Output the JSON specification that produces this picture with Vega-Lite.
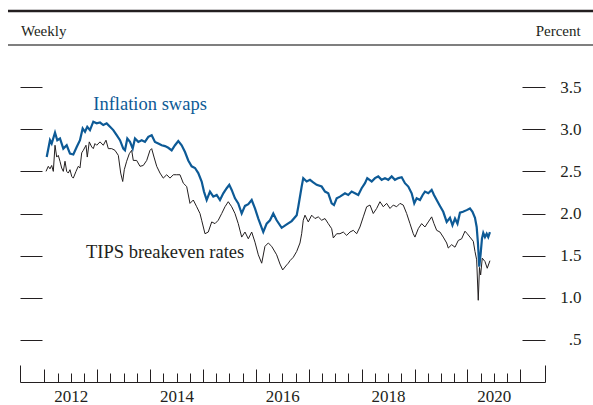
{
  "$schema": "https://vega.github.io/schema/vega-lite/v6.json",
  "autosize": "none",
  "width": 525,
  "height": 337,
  "padding": {"left": 20, "top": 45, "right": 48, "bottom": 23},
  "background": "white",
  "config": {"view": {"stroke": null}, "font": "Liberation Serif"},
  "datasets": {
    "swaps": [
      {"t":2012.045,"v":2.67},{"t":2012.107,"v":2.87},{"t":2012.139,"v":2.83},{"t":2012.202,"v":2.96},{"t":2012.245,"v":2.87},{"t":2012.296,"v":2.89},{"t":2012.359,"v":2.77},{"t":2012.423,"v":2.81},{"t":2012.485,"v":2.71},{"t":2012.548,"v":2.70},{"t":2012.612,"v":2.79},{"t":2012.674,"v":2.87},{"t":2012.725,"v":3.01},{"t":2012.769,"v":2.97},{"t":2012.812,"v":3.03},{"t":2012.863,"v":2.99},{"t":2012.926,"v":3.09},{"t":2012.990,"v":3.07},{"t":2013.053,"v":3.08},{"t":2013.115,"v":3.05},{"t":2013.179,"v":3.07},{"t":2013.242,"v":3.03},{"t":2013.304,"v":2.99},{"t":2013.368,"v":2.93},{"t":2013.431,"v":2.87},{"t":2013.493,"v":2.77},{"t":2013.525,"v":2.75},{"t":2013.569,"v":2.89},{"t":2013.620,"v":2.85},{"t":2013.671,"v":2.77},{"t":2013.714,"v":2.89},{"t":2013.777,"v":2.85},{"t":2013.841,"v":2.87},{"t":2013.903,"v":2.85},{"t":2013.966,"v":2.91},{"t":2014.030,"v":2.93},{"t":2014.092,"v":2.85},{"t":2014.155,"v":2.83},{"t":2014.219,"v":2.81},{"t":2014.282,"v":2.80},{"t":2014.344,"v":2.78},{"t":2014.408,"v":2.75},{"t":2014.471,"v":2.81},{"t":2014.533,"v":2.86},{"t":2014.597,"v":2.81},{"t":2014.660,"v":2.73},{"t":2014.722,"v":2.63},{"t":2014.786,"v":2.56},{"t":2014.849,"v":2.54},{"t":2014.911,"v":2.48},{"t":2014.975,"v":2.38},{"t":2015.019,"v":2.26},{"t":2015.070,"v":2.16},{"t":2015.132,"v":2.26},{"t":2015.195,"v":2.20},{"t":2015.259,"v":2.22},{"t":2015.321,"v":2.16},{"t":2015.384,"v":2.24},{"t":2015.448,"v":2.30},{"t":2015.497,"v":2.34},{"t":2015.543,"v":2.28},{"t":2015.605,"v":2.18},{"t":2015.667,"v":2.12},{"t":2015.732,"v":2.00},{"t":2015.794,"v":2.09},{"t":2015.857,"v":2.11},{"t":2015.921,"v":2.16},{"t":2015.983,"v":2.06},{"t":2016.046,"v":1.94},{"t":2016.140,"v":1.78},{"t":2016.204,"v":1.88},{"t":2016.267,"v":1.92},{"t":2016.329,"v":2.00},{"t":2016.393,"v":1.92},{"t":2016.488,"v":1.83},{"t":2016.583,"v":1.87},{"t":2016.677,"v":1.91},{"t":2016.772,"v":1.98},{"t":2016.802,"v":2.08},{"t":2016.866,"v":2.32},{"t":2016.896,"v":2.42},{"t":2016.961,"v":2.38},{"t":2017.023,"v":2.40},{"t":2017.085,"v":2.37},{"t":2017.150,"v":2.34},{"t":2017.244,"v":2.32},{"t":2017.307,"v":2.26},{"t":2017.369,"v":2.24},{"t":2017.433,"v":2.12},{"t":2017.477,"v":2.10},{"t":2017.528,"v":2.18},{"t":2017.590,"v":2.20},{"t":2017.685,"v":2.24},{"t":2017.747,"v":2.22},{"t":2017.811,"v":2.26},{"t":2017.874,"v":2.24},{"t":2017.936,"v":2.22},{"t":2018.000,"v":2.30},{"t":2018.063,"v":2.36},{"t":2018.106,"v":2.42},{"t":2018.190,"v":2.38},{"t":2018.252,"v":2.42},{"t":2018.314,"v":2.44},{"t":2018.379,"v":2.40},{"t":2018.441,"v":2.42},{"t":2018.503,"v":2.40},{"t":2018.568,"v":2.44},{"t":2018.630,"v":2.40},{"t":2018.693,"v":2.42},{"t":2018.757,"v":2.43},{"t":2018.819,"v":2.36},{"t":2018.882,"v":2.32},{"t":2018.946,"v":2.24},{"t":2018.995,"v":2.12},{"t":2019.040,"v":2.18},{"t":2019.103,"v":2.16},{"t":2019.154,"v":2.22},{"t":2019.197,"v":2.26},{"t":2019.260,"v":2.24},{"t":2019.324,"v":2.28},{"t":2019.368,"v":2.22},{"t":2019.419,"v":2.16},{"t":2019.481,"v":2.09},{"t":2019.543,"v":2.02},{"t":2019.608,"v":1.90},{"t":2019.670,"v":1.95},{"t":2019.717,"v":1.86},{"t":2019.765,"v":1.94},{"t":2019.812,"v":1.88},{"t":2019.859,"v":2.01},{"t":2019.916,"v":2.02},{"t":2019.986,"v":2.04},{"t":2020.048,"v":2.06},{"t":2020.096,"v":2.02},{"t":2020.143,"v":1.95},{"t":2020.175,"v":1.84},{"t":2020.199,"v":1.65},{"t":2020.224,"v":1.37},{"t":2020.250,"v":1.52},{"t":2020.275,"v":1.70},{"t":2020.300,"v":1.77},{"t":2020.332,"v":1.72},{"t":2020.364,"v":1.76},{"t":2020.394,"v":1.72},{"t":2020.426,"v":1.78}
    ],
    "tips": [
      {"t":2012.032,"v":2.50},{"t":2012.075,"v":2.56},{"t":2012.107,"v":2.53},{"t":2012.139,"v":2.57},{"t":2012.170,"v":2.50},{"t":2012.202,"v":2.81},{"t":2012.234,"v":2.67},{"t":2012.264,"v":2.69},{"t":2012.296,"v":2.62},{"t":2012.328,"v":2.54},{"t":2012.359,"v":2.50},{"t":2012.391,"v":2.62},{"t":2012.423,"v":2.50},{"t":2012.453,"v":2.48},{"t":2012.485,"v":2.52},{"t":2012.518,"v":2.44},{"t":2012.548,"v":2.42},{"t":2012.599,"v":2.50},{"t":2012.642,"v":2.56},{"t":2012.674,"v":2.54},{"t":2012.707,"v":2.72},{"t":2012.737,"v":2.75},{"t":2012.788,"v":2.81},{"t":2012.812,"v":2.67},{"t":2012.850,"v":2.85},{"t":2012.896,"v":2.79},{"t":2012.926,"v":2.77},{"t":2012.958,"v":2.83},{"t":2012.990,"v":2.81},{"t":2013.053,"v":2.85},{"t":2013.115,"v":2.81},{"t":2013.166,"v":2.87},{"t":2013.210,"v":2.77},{"t":2013.274,"v":2.77},{"t":2013.336,"v":2.75},{"t":2013.399,"v":2.69},{"t":2013.444,"v":2.48},{"t":2013.482,"v":2.38},{"t":2013.512,"v":2.52},{"t":2013.557,"v":2.62},{"t":2013.607,"v":2.71},{"t":2013.652,"v":2.75},{"t":2013.682,"v":2.63},{"t":2013.746,"v":2.63},{"t":2013.809,"v":2.56},{"t":2013.871,"v":2.57},{"t":2013.936,"v":2.63},{"t":2013.998,"v":2.75},{"t":2014.030,"v":2.77},{"t":2014.074,"v":2.67},{"t":2014.125,"v":2.56},{"t":2014.187,"v":2.48},{"t":2014.249,"v":2.42},{"t":2014.314,"v":2.46},{"t":2014.376,"v":2.42},{"t":2014.439,"v":2.46},{"t":2014.503,"v":2.46},{"t":2014.565,"v":2.46},{"t":2014.628,"v":2.36},{"t":2014.692,"v":2.32},{"t":2014.754,"v":2.12},{"t":2014.817,"v":2.16},{"t":2014.881,"v":2.08},{"t":2014.943,"v":2.00},{"t":2014.975,"v":1.92},{"t":2015.038,"v":1.76},{"t":2015.100,"v":1.78},{"t":2015.165,"v":1.90},{"t":2015.227,"v":1.88},{"t":2015.289,"v":1.92},{"t":2015.354,"v":2.00},{"t":2015.416,"v":2.08},{"t":2015.478,"v":2.14},{"t":2015.543,"v":2.08},{"t":2015.605,"v":2.00},{"t":2015.667,"v":1.88},{"t":2015.732,"v":1.72},{"t":2015.794,"v":1.78},{"t":2015.857,"v":1.70},{"t":2015.921,"v":1.78},{"t":2015.983,"v":1.66},{"t":2016.046,"v":1.51},{"t":2016.110,"v":1.41},{"t":2016.172,"v":1.61},{"t":2016.235,"v":1.65},{"t":2016.299,"v":1.61},{"t":2016.393,"v":1.51},{"t":2016.456,"v":1.40},{"t":2016.507,"v":1.33},{"t":2016.583,"v":1.39},{"t":2016.613,"v":1.41},{"t":2016.645,"v":1.44},{"t":2016.707,"v":1.48},{"t":2016.772,"v":1.55},{"t":2016.834,"v":1.65},{"t":2016.866,"v":1.76},{"t":2016.896,"v":1.92},{"t":2016.929,"v":1.98},{"t":2016.991,"v":1.90},{"t":2017.055,"v":1.98},{"t":2017.118,"v":1.94},{"t":2017.180,"v":1.96},{"t":2017.244,"v":1.92},{"t":2017.307,"v":1.94},{"t":2017.369,"v":1.88},{"t":2017.433,"v":1.82},{"t":2017.464,"v":1.71},{"t":2017.528,"v":1.76},{"t":2017.590,"v":1.76},{"t":2017.653,"v":1.78},{"t":2017.717,"v":1.74},{"t":2017.779,"v":1.78},{"t":2017.842,"v":1.80},{"t":2017.906,"v":1.76},{"t":2017.968,"v":1.84},{"t":2018.031,"v":1.96},{"t":2018.095,"v":2.08},{"t":2018.158,"v":2.10},{"t":2018.220,"v":2.00},{"t":2018.284,"v":2.06},{"t":2018.347,"v":2.14},{"t":2018.409,"v":2.08},{"t":2018.473,"v":2.12},{"t":2018.536,"v":2.06},{"t":2018.598,"v":2.10},{"t":2018.662,"v":2.08},{"t":2018.725,"v":2.12},{"t":2018.787,"v":2.10},{"t":2018.851,"v":2.00},{"t":2018.914,"v":1.88},{"t":2018.976,"v":1.76},{"t":2019.008,"v":1.72},{"t":2019.071,"v":1.82},{"t":2019.135,"v":1.88},{"t":2019.197,"v":1.84},{"t":2019.260,"v":1.90},{"t":2019.324,"v":1.96},{"t":2019.368,"v":1.88},{"t":2019.419,"v":1.80},{"t":2019.481,"v":1.78},{"t":2019.543,"v":1.72},{"t":2019.608,"v":1.65},{"t":2019.638,"v":1.59},{"t":2019.702,"v":1.63},{"t":2019.765,"v":1.60},{"t":2019.827,"v":1.68},{"t":2019.891,"v":1.70},{"t":2019.954,"v":1.79},{"t":2019.997,"v":1.76},{"t":2020.048,"v":1.72},{"t":2020.111,"v":1.67},{"t":2020.143,"v":1.55},{"t":2020.175,"v":1.45},{"t":2020.205,"v":0.97},{"t":2020.228,"v":1.36},{"t":2020.250,"v":1.27},{"t":2020.281,"v":1.47},{"t":2020.332,"v":1.43},{"t":2020.375,"v":1.35},{"t":2020.426,"v":1.44}
    ]
  },
  "layer": [
    {
      "data": {"name": "tips"},
      "mark": {"type": "line", "color": "#231f20", "strokeWidth": 1},
      "encoding": {
        "x": {
          "field": "t", "type": "quantitative",
          "scale": {"domain": [2011.54, 2021.467], "nice": false, "zero": false},
          "axis": {
            "orient": "bottom", "title": null, "grid": false, "labels": false,
            "values": [2012.25, 2012.5, 2012.75, 2013.25, 2013.5, 2013.75, 2014.25, 2014.5, 2014.75, 2015.25, 2015.5, 2015.75, 2016.25, 2016.5, 2016.75, 2017.25, 2017.5, 2017.75, 2018.25, 2018.5, 2018.75, 2019.25, 2019.5, 2019.75, 2020.25, 2020.5, 2020.75],
            "domainColor": "#231f20", "domainWidth": 1,
            "tickColor": "#231f20", "tickWidth": 1, "tickSize": -9
          }
        },
        "y": {
          "field": "v", "type": "quantitative",
          "scale": {"domain": [0, 4], "nice": false, "zero": false},
          "axis": {
            "orient": "left", "title": null, "grid": false, "domain": false, "labels": false,
            "values": [0.5, 1, 1.5, 2, 2.5, 3, 3.5],
            "tickSize": -22, "tickColor": "#231f20", "tickWidth": 1
          }
        }
      }
    },
    {
      "data": {"name": "swaps"},
      "mark": {"type": "line", "color": "#0d5a96", "strokeWidth": 2.2},
      "encoding": {
        "x": {
          "field": "t", "type": "quantitative",
          "axis": {
            "orient": "bottom", "title": null, "grid": false, "labels": false, "domain": false,
            "values": [2012, 2013, 2014, 2015, 2016, 2017, 2018, 2019, 2020, 2021],
            "tickColor": "#231f20", "tickWidth": 1, "tickSize": -13
          }
        },
        "y": {
          "field": "v", "type": "quantitative",
          "axis": {
            "orient": "right", "title": null, "grid": false, "domain": false,
            "values": [0.5, 1, 1.5, 2, 2.5, 3, 3.5],
            "tickSize": -23, "tickColor": "#231f20", "tickWidth": 1,
            "labelExpr": "datum.value == 0.5 ? '.5' : format(datum.value, '.1f')",
            "labelAlign": "right", "labelBaseline": "middle", "labelPadding": 59,
            "labelFont": "Liberation Serif", "labelFontSize": 17, "labelColor": "#231f20",
            "labelFlush": false, "labelOverlap": false, "labelBound": false
          }
        }
      }
    },
    {
      "data": {"values": [{"part": "top rule"}]},
      "mark": {"type": "rule", "color": "#231f20", "strokeWidth": 2.6},
      "encoding": {
        "x": {
          "datum": 2011.313, "type": "quantitative",
          "axis": {
            "orient": "bottom", "title": null, "grid": false, "labels": false, "domain": false,
            "values": [2011.54, 2021.467],
            "tickColor": "#231f20", "tickWidth": 1, "tickSize": -17
          }
        },
        "x2": {"datum": 2022.6},
        "y": {"datum": 4.404, "type": "quantitative", "axis": null}
      }
    },
    {
      "data": {"values": [{"part": "header rule"}]},
      "mark": {"type": "rule", "color": "#555555", "strokeWidth": 1.5},
      "encoding": {
        "x": {
          "datum": 2011.313, "type": "quantitative",
          "axis": {
            "orient": "bottom", "title": null, "grid": false, "ticks": false, "domain": false,
            "values": [2012.5, 2014.5, 2016.5, 2018.5, 2020.5],
            "labelExpr": "format(floor(datum.value), 'd')",
            "labelFont": "Liberation Serif", "labelFontSize": 17, "labelColor": "#231f20",
            "labelBaseline": "alphabetic", "labelPadding": 19.7,
            "labelFlush": false, "labelOverlap": false, "labelBound": false
          }
        },
        "x2": {"datum": 2022.6},
        "y": {"datum": 4.0, "type": "quantitative", "axis": null}
      }
    },
    {
      "data": {"values": [{"label": "Weekly"}]},
      "mark": {"type": "text", "align": "left", "baseline": "alphabetic", "font": "Liberation Serif", "fontSize": 15, "color": "#231f20"},
      "encoding": {
        "x": {"datum": 2011.559, "type": "quantitative", "axis": null},
        "y": {"datum": 4.107, "type": "quantitative", "axis": null},
        "text": {"field": "label"}
      }
    },
    {
      "data": {"values": [{"label": "Percent"}]},
      "mark": {"type": "text", "align": "right", "baseline": "alphabetic", "font": "Liberation Serif", "fontSize": 15, "color": "#231f20"},
      "encoding": {
        "x": {"datum": 2022.142, "type": "quantitative", "axis": null},
        "y": {"datum": 4.107, "type": "quantitative", "axis": null},
        "text": {"field": "label"}
      }
    },
    {
      "data": {"values": [{"label": "Inflation swaps"}]},
      "mark": {"type": "text", "align": "left", "baseline": "alphabetic", "font": "Liberation Serif", "fontSize": 18.5, "color": "#0d5a96"},
      "encoding": {
        "x": {"datum": 2012.926, "type": "quantitative", "axis": null},
        "y": {"datum": 3.23, "type": "quantitative", "axis": null},
        "text": {"field": "label"}
      }
    },
    {
      "data": {"values": [{"label": "TIPS breakeven rates"}]},
      "mark": {"type": "text", "align": "left", "baseline": "alphabetic", "font": "Liberation Serif", "fontSize": 18.5, "color": "#231f20"},
      "encoding": {
        "x": {"datum": 2012.788, "type": "quantitative", "axis": null},
        "y": {"datum": 1.475, "type": "quantitative", "axis": null},
        "text": {"field": "label"}
      }
    }
  ],
  "resolve": {"axis": {"x": "independent", "y": "independent"}}
}
